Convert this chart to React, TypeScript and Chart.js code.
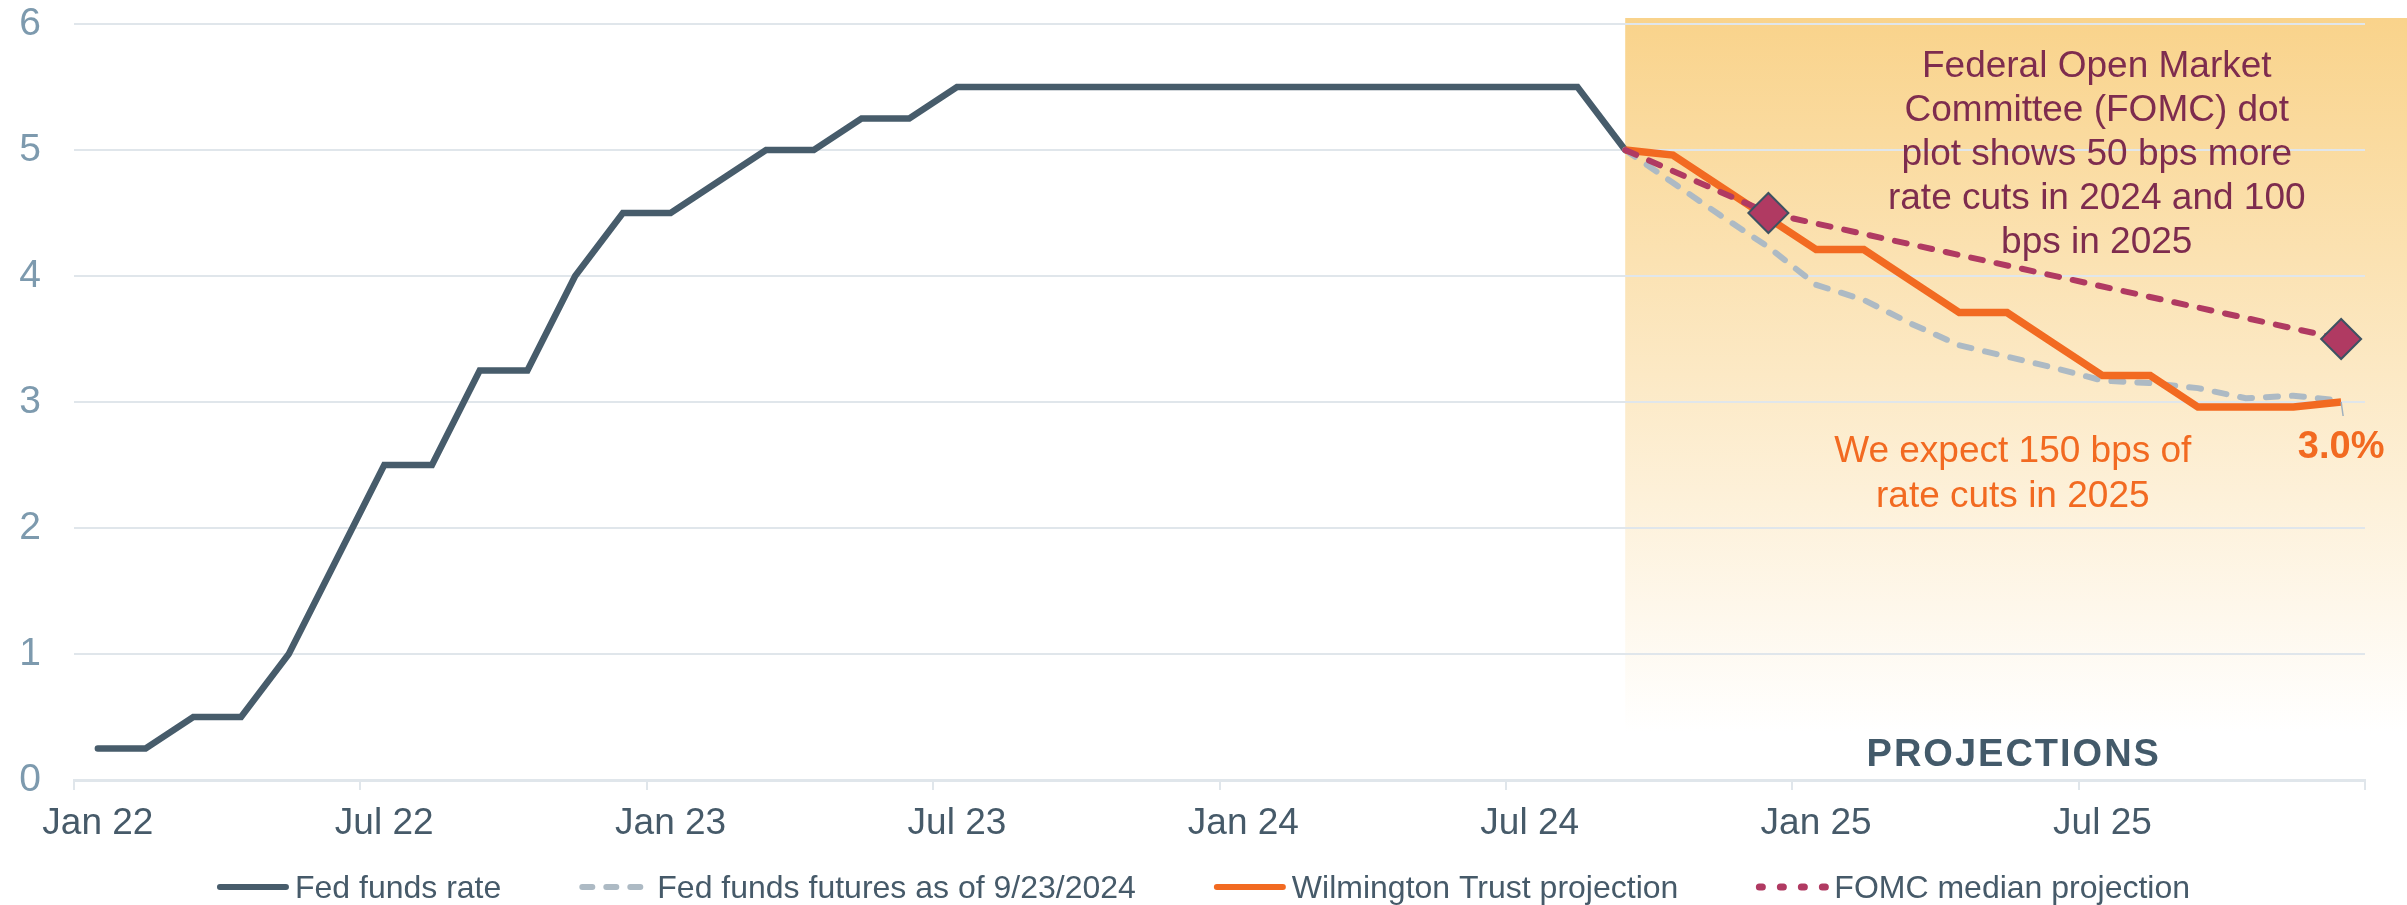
import React, { useEffect, useRef } from 'react';
import { Chart, registerables } from 'chart.js';

Chart.register(...registerables);

// ---------- data ----------
const MONTHS = ['Jan', 'Feb', 'Mar', 'Apr', 'May', 'Jun', 'Jul', 'Aug', 'Sep', 'Oct', 'Nov', 'Dec'];
const YEARS = ['22', '23', '24', '25'];
const categories = YEARS.flatMap((yr) => MONTHS.map((m) => `${m} ${yr}`));
const labelledMonths = ['Jan', 'Jul'];
const yTicks = [0, 1, 2, 3, 4, 5, 6];

// Fed funds rate (upper bound), Jan 22 .. Sep 24
const fedFundsRate = [
  0.25, 0.25, 0.5, 0.5, 1.0, 1.75, 2.5, 2.5, 3.25, 3.25, 4.0, 4.5,
  4.5, 4.75, 5.0, 5.0, 5.25, 5.25, 5.5, 5.5, 5.5, 5.5, 5.5, 5.5,
  5.5, 5.5, 5.5, 5.5, 5.5, 5.5, 5.5, 5.5, 5.0,
];
// Projections, Sep 24 .. Dec 25
const projectionStartLabel = 'Sep 24';
const futuresValues = [5.0, 4.74, 4.48, 4.23, 3.93, 3.81, 3.62, 3.45, 3.36, 3.27, 3.17, 3.15, 3.11, 3.03, 3.05, 3.01];
const wilmingtonValues = [5.0, 4.96, 4.71, 4.46, 4.21, 4.21, 3.96, 3.71, 3.71, 3.46, 3.21, 3.21, 2.96, 2.96, 2.96, 3.0];
const fomcValues = [5.0, null, null, 4.5, null, null, null, null, null, null, null, null, null, null, null, 3.5];

const seriesNames = [
  'Fed funds rate',
  'Fed funds futures as of 9/23/2024',
  'Wilmington Trust projection',
  'FOMC median projection',
];
const fomcNote = [
  'Federal Open Market',
  'Committee (FOMC) dot',
  'plot shows 50 bps more',
  'rate cuts in 2024 and 100',
  'bps in 2025',
];
const wilmingtonNote = ['We expect 150 bps of', 'rate cuts in 2025'];
const endLabel = '3.0%';
const projectionsTitle = 'PROJECTIONS';

// ---------- styles ----------
const FONT = '"Liberation Sans", Arial, Helvetica, sans-serif';
const SLATE = '#475c6b';
const GRAY = '#adbac4';
const ORANGE = '#f26a21';
const MAROON = '#b03a62';
const MAROON_TEXT = '#7e2c4e';
const GRID = '#e0e6eb';
const Y_LABEL = '#7d9aae';
const X_LABEL = '#465a69';
const CLEAR = 'rgba(0,0,0,0)';

const projStart = categories.indexOf(projectionStartLabel);
const padNull = (vals: (number | null)[]) => [...new Array(projStart).fill(null), ...vals];

const legendStyles = [
  { color: SLATE, dash: [] as number[], width: 6 },
  { color: GRAY, dash: [10, 14], width: 6 },
  { color: ORANGE, dash: [] as number[], width: 6 },
  { color: MAROON, dash: [3, 18], width: 7 },
];

const tickColor = (c: any) =>
  c.index === undefined || c.index % 6 === 0 ? GRID : CLEAR;

const overlayPlugin = {
  id: 'overlay',
  beforeDraw(chart: any) {
    const { ctx, scales, width } = chart;
    const x = scales.x;
    const y = scales.y;
    const left = x.getPixelForValue(projStart);
    const top = y.getPixelForValue(6) - 6;
    const bottom = y.getPixelForValue(0.38);
    const g = ctx.createLinearGradient(0, top, 0, bottom);
    g.addColorStop(0, '#f9d38b');
    g.addColorStop(1, '#ffffff');
    ctx.save();
    ctx.fillStyle = g;
    ctx.fillRect(left, top, width - left, bottom - top);
    ctx.restore();
  },
  afterDraw(chart: any) {
    const { ctx, scales, width, height } = chart;
    const x = scales.x;
    const y = scales.y;
    ctx.save();
    ctx.textAlign = 'center';
    ctx.textBaseline = 'alphabetic';

    // FOMC note
    ctx.font = `37px ${FONT}`;
    ctx.fillStyle = MAROON_TEXT;
    const fx = x.getPixelForValue(41.88);
    const fy = y.getPixelForValue(6) + 53;
    fomcNote.forEach((t, i) => ctx.fillText(t, fx, fy + i * 44));

    // Wilmington note
    ctx.fillStyle = ORANGE;
    const wx = x.getPixelForValue(40.12);
    const wy = y.getPixelForValue(2.5) - 3;
    wilmingtonNote.forEach((t, i) => ctx.fillText(t, wx, wy + i * 45));

    // end label + leader
    const lastIdx = categories.length - 1;
    const ex = x.getPixelForValue(lastIdx);
    const ey = y.getPixelForValue(wilmingtonValues[wilmingtonValues.length - 1]);
    ctx.strokeStyle = '#9fb0be';
    ctx.lineWidth = 1.5;
    ctx.beginPath();
    ctx.moveTo(ex, ey);
    ctx.lineTo(ex + 2, ey + 14);
    ctx.stroke();
    ctx.font = `bold 38px ${FONT}`;
    ctx.fillStyle = ORANGE;
    ctx.fillText(endLabel, ex, ey + 56);

    // PROJECTIONS
    ctx.font = `bold 38px ${FONT}`;
    ctx.fillStyle = '#435a6a';
    (ctx as any).letterSpacing = '2px';
    ctx.fillText(projectionsTitle, wx + 1, y.getPixelForValue(0) - 14);
    (ctx as any).letterSpacing = '0px';

    // Legend
    ctx.font = `32px ${FONT}`;
    ctx.textAlign = 'left';
    ctx.textBaseline = 'alphabetic';
    const lineLen = 72;
    const gapText = 6;
    const gapItem = 78;
    const widths = seriesNames.map((n) => ctx.measureText(n).width);
    const total = widths.reduce((a, b) => a + b, 0) + seriesNames.length * (lineLen + gapText) + (seriesNames.length - 1) * gapItem;
    let cx = width / 2 - total / 2;
    const ly = height - 18;
    seriesNames.forEach((n, i) => {
      const st = legendStyles[i];
      ctx.strokeStyle = st.color;
      ctx.lineWidth = st.width;
      ctx.lineCap = 'round';
      ctx.setLineDash(st.dash);
      ctx.beginPath();
      ctx.moveTo(cx + 3, ly);
      ctx.lineTo(cx + lineLen - 3, ly);
      ctx.stroke();
      ctx.setLineDash([]);
      ctx.fillStyle = X_LABEL;
      ctx.fillText(n, cx + lineLen + gapText, ly + 11);
      cx += lineLen + gapText + widths[i] + gapItem;
    });
    ctx.restore();
  },
};

export default function App() {
  const ref = useRef<HTMLCanvasElement>(null);

  useEffect(() => {
    document.body.style.margin = '0';
    const canvas = ref.current;
    if (!canvas) return;
    const chart = new Chart(canvas, {
      type: 'line',
      data: {
        labels: categories,
        datasets: [
          {
            label: seriesNames[3],
            data: padNull(fomcValues),
            borderColor: MAROON,
            backgroundColor: MAROON,
            borderWidth: 6,
            borderDash: [12, 14],
            borderCapStyle: 'round',
            spanGaps: true,
            pointStyle: 'rectRot',
            pointRadius: (c: any) => (c.dataIndex === projStart ? 0 : 20),
            pointBackgroundColor: MAROON,
            pointBorderColor: '#3d5262',
            pointBorderWidth: 2,
            order: 1,
          },
          {
            label: seriesNames[2],
            data: padNull(wilmingtonValues),
            borderColor: ORANGE,
            borderWidth: 7.5,
            pointRadius: 0,
            order: 2,
          },
          {
            label: seriesNames[1],
            data: padNull(futuresValues),
            borderColor: GRAY,
            borderWidth: 6,
            borderDash: [12, 14],
            borderCapStyle: 'round',
            pointRadius: 0,
            order: 3,
          },
          {
            label: seriesNames[0],
            data: fedFundsRate,
            borderColor: SLATE,
            borderWidth: 6.5,
            borderCapStyle: 'round',
            pointRadius: 0,
            order: 4,
          },
        ],
      } as any,
      options: {
        responsive: false,
        maintainAspectRatio: false,
        devicePixelRatio: 1,
        animation: false,
        events: [],
        layout: { padding: { left: 0, right: 42, top: 24, bottom: 45 } },
        plugins: {
          legend: { display: false },
          tooltip: { enabled: false },
        },
        scales: {
          x: {
            type: 'category',
            offset: true,
            grid: {
              display: true,
              offset: true,
              drawOnChartArea: false,
              drawTicks: true,
              tickLength: 10,
              lineWidth: 2,
              color: tickColor,
              tickColor: tickColor,
            },
            border: { display: true, color: GRID, width: 3 },
            ticks: {
              autoSkip: false,
              maxRotation: 0,
              minRotation: 0,
              padding: 12,
              color: X_LABEL,
              font: { family: FONT, size: 37 },
              callback: (_v: any, i: number) =>
                labelledMonths.includes(categories[i].split(' ')[0]) ? categories[i] : '',
            },
            afterFit: (s: any) => {
              s.height = 80;
            },
          },
          y: {
            min: yTicks[0],
            max: yTicks[yTicks.length - 1],
            ticks: {
              stepSize: 1,
              padding: 0,
              color: Y_LABEL,
              font: { family: FONT, size: 39 },
            },
            grid: { color: GRID, lineWidth: 2, drawTicks: true, tickLength: 33, tickColor: CLEAR },
            border: { display: false },
            afterFit: (s: any) => {
              s.width = 74;
            },
          },
        },
      } as any,
      plugins: [overlayPlugin],
    });
    return () => chart.destroy();
  }, []);

  return (
    <div style={{ width: 2407, height: 905, overflow: 'hidden' }}>
      <canvas ref={ref} width={2407} height={905} style={{ display: 'block' }} />
    </div>
  );
}
